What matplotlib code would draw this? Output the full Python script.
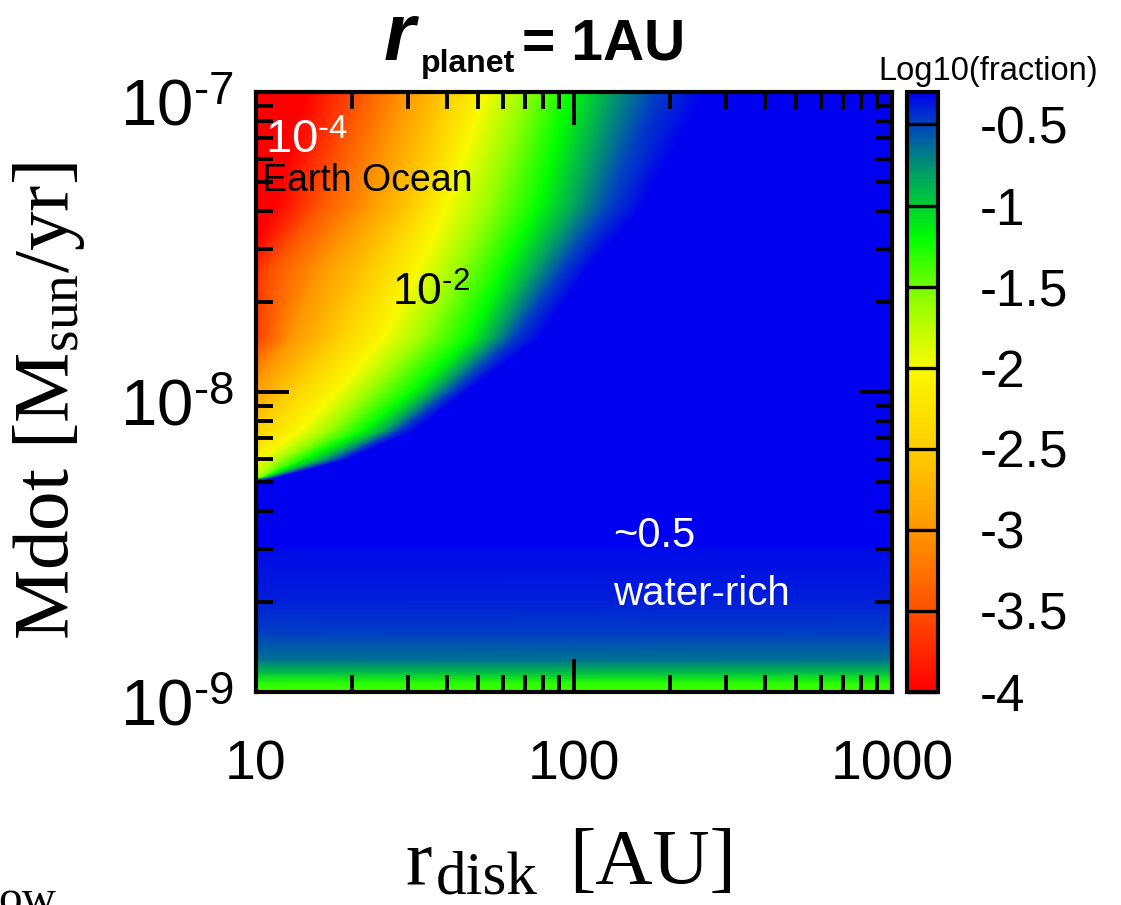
import numpy as np
import matplotlib
matplotlib.use('Agg')
import matplotlib.pyplot as plt
from matplotlib.colors import LinearSegmentedColormap
from matplotlib.transforms import ScaledTranslation
from matplotlib.ticker import FixedLocator, FixedFormatter, FuncFormatter, NullFormatter, LogLocator

plt.rcParams['font.family'] = ['Liberation Sans', 'DejaVu Sans']
plt.rcParams['mathtext.fontset'] = 'custom'
plt.rcParams['mathtext.rm'] = 'Liberation Sans'
plt.rcParams['mathtext.sf'] = 'Liberation Sans'
plt.rcParams['mathtext.tt'] = 'Liberation Serif'
plt.rcParams['mathtext.it'] = 'Liberation Serif:italic'
plt.rcParams['mathtext.bf'] = 'Liberation Sans:bold'

W, H = 1121, 905

# ---- data ----
# log10(fraction) levels, and where (log10 r_disk) each level crosses a row of log10 Mdot
level_vals = [-4.0, -3.5, -3.0, -2.5, -2.0, -1.6, -1.2, -0.8, -0.5, -0.3]
mdot_rows = [-7.0, -7.377, -7.593, -7.82, -7.993, -8.127, -8.227, -8.287, -8.31, -8.52]
level_pos = [
    [1.16, 1.32, 1.47, 1.60, 1.72, 1.85, 1.99, 2.12, 2.25, 2.41],
    [1.06, 1.19, 1.35, 1.49, 1.60, 1.74, 1.89, 2.01, 2.11, 2.22],
    [0.95, 1.04, 1.20, 1.36, 1.51, 1.64, 1.78, 1.88, 1.96, 2.04],
    [0.92, 1.02, 1.11, 1.25, 1.40, 1.53, 1.67, 1.75, 1.81, 1.89],
    [0.76, 0.87, 0.98, 1.11, 1.26, 1.37, 1.50, 1.57, 1.62, 1.67],
    [0.64, 0.75, 0.86, 0.98, 1.14, 1.24, 1.34, 1.41, 1.45, 1.50],
    [0.51, 0.64, 0.76, 0.89, 1.01, 1.08, 1.15, 1.21, 1.25, 1.28],
    [0.38, 0.51, 0.67, 0.82, 0.97, 1.01, 1.02, 1.03, 1.05, 1.06],
    [0.30, 0.40, 0.50, 0.60, 0.70, 0.75, 0.80, 0.85, 0.90, 0.95],
    [0.30, 0.40, 0.50, 0.60, 0.70, 0.75, 0.80, 0.85, 0.90, 0.95],
]
# bottom strip: log10 Mdot rows and values (flat in r_disk)
strip_mdot = [-9.0, -8.97, -8.937, -8.893, -8.803, -8.693, -8.52]
strip_vals = [-1.4, -1.3, -0.95, -0.65, -0.48, -0.4, -0.34]

cbar_ticks = [-4, -3.5, -3, -2.5, -2, -1.5, -1, -0.5]
cbar_labels = ['-4', '-3.5', '-3', '-2.5', '-2', '-1.5', '-1', '-0.5']

# colour map
cm_vals = [-4.0, -3.5, -3.0, -2.5, -2.0, -1.6, -1.2, -0.8, -0.5, -0.3]
cm_cols = [(255, 0, 0), (255, 80, 0), (255, 150, 0), (255, 205, 0), (250, 250, 0),
           (150, 255, 0), (0, 255, 0), (0, 160, 100), (0, 70, 190), (0, 0, 240)]
vmin, vmax = -4.0, -0.3
cmap = LinearSegmentedColormap.from_list(
    'frac', [((v - vmin) / (vmax - vmin), np.array(c) / 255.) for v, c in zip(cm_vals, cm_cols)])

fig = plt.figure(figsize=(W / 100, H / 100), dpi=100)
ax = fig.add_axes([256 / W, 1 - 692 / H, 636 / W, 600 / H])

# upper region: mesh following the level crossings
ncol = len(level_vals) + 2
X = np.array([[0.0] + row + [3.05] for row in level_pos])
Y = np.repeat(np.array(mdot_rows)[:, None], ncol, axis=1)
C = np.tile([-4.0] + level_vals + [-0.3], (len(mdot_rows), 1))
mesh = ax.pcolormesh(10 ** X, 10 ** Y, C, shading='gouraud', cmap=cmap, vmin=vmin, vmax=vmax)

# bottom strip
Xs = np.tile([10.0, 1000.0], (len(strip_mdot), 1))
Ys = np.repeat(10 ** np.array(strip_mdot)[:, None], 2, axis=1)
Cs = np.repeat(np.array(strip_vals)[:, None], 2, axis=1)
ax.pcolormesh(Xs, Ys, Cs, shading='gouraud', cmap=cmap, vmin=vmin, vmax=vmax)

ax.set_xscale('log')
ax.set_yscale('log')
ax.set_xlim(10, 1000)
ax.set_ylim(1e-9, 1e-7)

ax.xaxis.set_major_locator(FixedLocator([10, 100, 1000]))
ax.xaxis.set_major_formatter(FixedFormatter(['10', '100', '1000']))
ax.xaxis.set_minor_locator(LogLocator(subs=np.arange(2, 10)))
ax.xaxis.set_minor_formatter(NullFormatter())
ax.yaxis.set_major_locator(FixedLocator([1e-9, 1e-8, 1e-7]))
ax.yaxis.set_major_formatter(FuncFormatter(
    lambda v, p: r'$\mathsf{10}^{\text{-}\mathsf{%d}}$' % abs(round(np.log10(v)))))
ax.yaxis.set_minor_locator(LogLocator(subs=np.arange(2, 10)))
ax.yaxis.set_minor_formatter(NullFormatter())

ax.tick_params(which='both', direction='in', top=True, right=True, width=2.8, colors='black')
ax.tick_params(which='major', length=24)
ax.tick_params(which='minor', length=12)
ax.tick_params(axis='x', which='major', labelsize=40, pad=34)
ax.tick_params(axis='y', which='major', labelsize=47, pad=16)
for s in ax.spines.values():
    s.set_linewidth(3)
for lbl in ax.get_yticklabels():
    lbl.set_transform(lbl.get_transform() + ScaledTranslation(0, -7 / 72, fig.dpi_scale_trans))

ax.set_ylabel('Mdot [M$_{\\mathtt{sun}}$/yr]', family='Liberation Serif', fontsize=57)
ax.yaxis.set_label_coords(-0.266, 0.485)

# x label pieces
fig.text(405 / W, 1 - 883 / H, 'r', family='Liberation Serif', fontsize=57, va='baseline')
fig.text(436 / W, 1 - 893 / H, 'disk', family='Liberation Serif', fontsize=44, va='baseline')
fig.text(569 / W, 1 - 883 / H, '[AU]', family='Liberation Serif', fontsize=57, va='baseline')

# annotations
ax.text(0.014, 0.898, r'$\mathsf{10}^{\text{-}\mathsf{4}}$', color='white', fontsize=34,
        transform=ax.transAxes, va='baseline')
ax.text(0.010, 0.835, 'Earth Ocean', color='black', fontsize=27, transform=ax.transAxes, va='baseline')
ax.text(0.214, 0.645, r'$\mathsf{10}^{\text{-}\mathsf{2}}$', color='black', fontsize=32,
        transform=ax.transAxes, va='baseline')
ax.text(0.561, 0.242, '~0.5', color='white', fontsize=30, transform=ax.transAxes, va='baseline')
ax.text(0.561, 0.145, 'water-rich', color='white', fontsize=29, transform=ax.transAxes, va='baseline')

# colour bar
cax = fig.add_axes([907 / W, 1 - 692 / H, 31 / W, 600 / H])
cb = fig.colorbar(mesh, cax=cax)
cb.set_ticks(cbar_ticks)
cb.set_ticklabels(cbar_labels)
cb.outline.set_linewidth(3)
cax.tick_params(axis='y', direction='in', length=22, width=2.4, labelsize=37, pad=30,
                left=False, right=True)
fig.text(878 / W, 1 - 80 / H, 'Log10(fraction)', fontsize=23.5, va='baseline')

# title
fig.text(384 / W, 1 - 60 / H, 'r', fontsize=58, fontweight='bold', fontstyle='italic', va='baseline')
fig.text(421 / W, 1 - 72 / H, 'planet', fontsize=23, fontweight='bold', va='baseline')
fig.text(522 / W, 1 - 60 / H, '= 1AU', fontsize=41, fontweight='bold', va='baseline')

fig.text(-2 / W, 1 - 912 / H, 'ow', family='Liberation Serif', fontsize=34, va='baseline')

fig.savefig('out.png', dpi=100)
